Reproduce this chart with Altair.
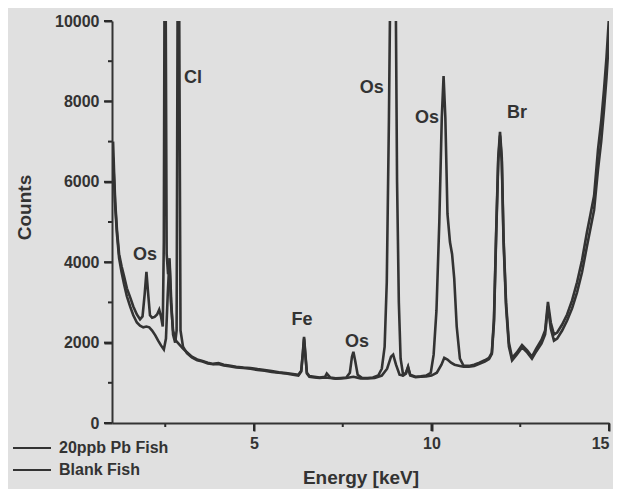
import altair as alt
import pandas as pd

series_names = ["20ppb Pb Fish", "Blank Fish"]

energy_pb = [1.03, 1.06, 1.09, 1.14, 1.20, 1.27, 1.34, 1.42, 1.51, 1.60,
             1.70, 1.79, 1.86, 1.92, 1.97, 2.02, 2.07, 2.13, 2.20, 2.27,
             2.33, 2.38, 2.43, 2.46, 2.48, 2.51, 2.54, 2.58, 2.62, 2.66,
             2.72, 2.80, 2.90, 3.00, 3.11, 3.25, 3.40, 3.55, 3.70, 3.85,
             4.00, 4.15, 4.30, 4.50, 4.70, 4.90, 5.10, 5.30, 5.50, 5.70,
             5.90, 6.10, 6.25, 6.33, 6.38, 6.41, 6.44, 6.49, 6.56, 6.70,
             6.85, 7.00, 7.05, 7.15, 7.30, 7.45, 7.60, 7.70, 7.76, 7.80,
             7.85, 7.92, 8.05, 8.20, 8.35, 8.50, 8.60, 8.68, 8.74, 8.80,
             8.84, 8.99, 9.03, 9.08, 9.13, 9.20, 9.28, 9.34, 9.40, 9.55,
             9.70, 9.85, 9.98, 10.06, 10.14, 10.22, 10.29, 10.34, 10.39, 10.45,
             10.52, 10.58, 10.64, 10.71, 10.80, 10.90, 11.05, 11.20, 11.35, 11.50,
             11.62, 11.70, 11.76, 11.82, 11.88, 11.93, 11.98, 12.03, 12.10, 12.18,
             12.27, 12.40, 12.55, 12.70, 12.83, 12.95, 13.10, 13.20, 13.28, 13.36,
             13.45, 13.54, 13.68, 13.82, 13.96, 14.10, 14.24, 14.38, 14.48, 14.58,
             14.69, 14.78, 14.86, 14.93, 15.00]
counts_pb = [7000, 6200, 5500, 4800, 4200, 3900, 3650, 3350, 3130, 2900,
             2700, 2580, 2650, 3200, 3760, 3200, 2680, 2620, 2640, 2700,
             2820, 2650, 2400, 4500, 11000, 11000, 4200, 3700, 4000, 3000,
             2300, 2050, 1950, 1850, 1760, 1650, 1580, 1540, 1500, 1470,
             1490, 1450, 1430, 1400, 1380, 1370, 1340, 1320, 1290, 1260,
             1240, 1220, 1200, 1300, 1800, 2140, 1800, 1250, 1170, 1150,
             1130, 1150, 1230, 1130, 1110, 1120, 1130, 1250, 1650, 1770,
             1550, 1200, 1120, 1120, 1130, 1180, 1350, 1900, 3500, 7500,
             11000, 11000, 6000, 3000, 1600, 1200, 1250, 1400, 1200, 1150,
             1160, 1180, 1250, 1700, 2800, 5000, 7600, 8630, 7600, 5200,
             4500, 4200, 3600, 2400, 1600, 1430, 1420, 1450, 1500, 1560,
             1620, 1750, 2600, 4700, 6600, 7240, 6600, 4600, 3000, 2000,
             1620, 1750, 1940, 1800, 1650, 1850, 2070, 2300, 3010, 2500,
             2200, 2250, 2450, 2700, 3050, 3500, 4050, 4750, 5200, 5650,
             6800, 7500, 8300, 9100, 10100]

energy_blank = [1.03, 1.06, 1.09, 1.14, 1.20, 1.27, 1.34, 1.42, 1.51, 1.60,
                1.70, 1.79, 1.88, 1.97, 2.05, 2.13, 2.22, 2.30, 2.38, 2.46,
                2.52, 2.57, 2.62, 2.67, 2.72, 2.78, 2.82, 2.85, 2.89, 2.93,
                3.00, 3.11, 3.25, 3.40, 3.55, 3.70, 3.85, 4.00, 4.15, 4.30,
                4.50, 4.70, 4.90, 5.10, 5.30, 5.50, 5.70, 5.90, 6.10, 6.25,
                6.33, 6.38, 6.41, 6.44, 6.49, 6.56, 6.70, 6.85, 7.00, 7.15,
                7.30, 7.45, 7.60, 7.80, 8.00, 8.20, 8.40, 8.60, 8.75, 8.86,
                8.92, 9.00, 9.10, 9.20, 9.28, 9.34, 9.40, 9.55, 9.70, 9.85,
                10.00, 10.15, 10.28, 10.36, 10.45, 10.55, 10.65, 10.80, 10.90, 11.05,
                11.20, 11.35, 11.50, 11.62, 11.70, 11.76, 11.82, 11.88, 11.93, 11.98,
                12.03, 12.10, 12.18, 12.27, 12.40, 12.55, 12.70, 12.83, 12.95, 13.10,
                13.20, 13.28, 13.36, 13.45, 13.54, 13.68, 13.82, 13.96, 14.10, 14.24,
                14.38, 14.48, 14.58, 14.69, 14.78, 14.86, 14.93, 15.00]
counts_blank = [6600, 6000, 5400, 4700, 4100, 3750, 3450, 3150, 2900, 2680,
                2500, 2420, 2380, 2400, 2380, 2300, 2180, 2050, 1930, 1830,
                2100, 3200, 4100, 3000, 2200, 2000, 2300, 11000, 11000, 2300,
                1900, 1740, 1630, 1560, 1530, 1480, 1460, 1470, 1430, 1410,
                1380, 1370, 1350, 1320, 1300, 1270, 1250, 1230, 1200, 1180,
                1280, 1750, 2100, 1750, 1230, 1150, 1130, 1120, 1130, 1120,
                1100, 1110, 1120, 1150, 1110, 1110, 1120, 1180, 1350, 1650,
                1700, 1450, 1200, 1180, 1230, 1380, 1180, 1140, 1150, 1160,
                1180, 1250, 1450, 1620, 1580, 1500, 1450, 1420, 1400, 1400,
                1420, 1470, 1530, 1590, 1720, 2500, 4600, 6500, 7150, 6500,
                4500, 2900, 1900, 1560, 1700, 1880, 1750, 1600, 1780, 1980,
                2200, 2900, 2350, 2050, 2100, 2300, 2550, 2850, 3250, 3750,
                4400, 4850, 5300, 6300, 7000, 7800, 8600, 9600]

peak_text = ["Os", "Cl", "Fe", "Os", "Os", "Os", "Br"]
peak_energy = [1.93, 3.28, 6.35, 7.90, 8.32, 9.87, 12.41]
peak_counts = [4180, 8580, 2560, 2015, 8330, 7590, 7710]

x_major = [5, 10, 15]
x_minor = [2.5, 7.5, 12.5]
y_major = [0, 2000, 4000, 6000, 8000, 10000]
y_minor = [1000, 3000, 5000, 7000, 9000]

FONT = "Liberation Sans"
INK = "#333333"
PLOT_H = 402

df = pd.concat([
    pd.DataFrame({"energy": energy_pb, "counts": counts_pb, "series": series_names[0]}),
    pd.DataFrame({"energy": energy_blank, "counts": counts_blank, "series": series_names[1]}),
], ignore_index=True)
labels_df = pd.DataFrame({"text": peak_text, "energy": peak_energy, "counts": peak_counts})
xt_major = pd.DataFrame({"energy": x_major})
xt_minor = pd.DataFrame({"energy": x_minor})
yt_major = pd.DataFrame({"counts": y_major})
yt_minor = pd.DataFrame({"counts": y_minor})

x_scale = alt.Scale(domain=[1, 15], nice=False, zero=False)
y_scale = alt.Scale(domain=[0, 10000], nice=False)

x_axis = alt.Axis(title="Energy [keV]", orient="bottom", values=x_major,
                  ticks=True, tickSize=8, tickWidth=2, tickColor="#2a2a2a",
                  labelPadding=4, titlePadding=17, zindex=1)
y_axis = alt.Axis(title="Counts", orient="left", values=y_major, format="d",
                  ticks=True, tickSize=8, tickWidth=2, tickColor="#2a2a2a",
                  labelPadding=5, titleX=-88, titleY=186, titleBaseline="middle",
                  zindex=1)

X = alt.X("energy:Q", scale=x_scale, axis=x_axis)
Y = alt.Y("counts:Q", scale=y_scale, axis=y_axis)

lines = alt.Chart(df).mark_line(clip=True, strokeWidth=2.6).encode(
    x=X,
    y=Y,
    color=alt.Color(
        "series:N",
        scale=alt.Scale(domain=series_names, range=[INK, INK]),
        legend=alt.Legend(
            title=None,
            orient="none",
            legendX=-100,
            legendY=419,
            symbolType="stroke",
            symbolSize=1444,
            symbolStrokeWidth=2,
            clipHeight=16,
            rowPadding=6,
            labelOffset=7,
            labelFont=FONT,
            labelFontWeight="bold",
            labelFontSize=16,
            labelColor=INK,
            padding=0,
        ),
    ),
)

text = alt.Chart(labels_df).mark_text(
    font=FONT, fontWeight="bold", fontSize=18, color=INK
).encode(x=X, y=Y, text="text:N")

tick_style = dict(color="#2a2a2a", strokeWidth=2)
x_ticks_major = alt.Chart(xt_major).mark_rule(**tick_style).encode(
    x=X, y=alt.value(PLOT_H), y2=alt.value(PLOT_H + 8))
x_ticks_minor = alt.Chart(xt_minor).mark_rule(**tick_style).encode(
    x=X, y=alt.value(PLOT_H), y2=alt.value(PLOT_H + 4))
y_ticks_major = alt.Chart(yt_major).mark_rule(**tick_style).encode(
    y=Y, x=alt.value(0), x2=alt.value(-8))
y_ticks_minor = alt.Chart(yt_minor).mark_rule(**tick_style).encode(
    y=Y, x=alt.value(0), x2=alt.value(-4))

chart = alt.layer(
    lines, text, x_ticks_major, x_ticks_minor, y_ticks_major, y_ticks_minor
).properties(
    width=497,
    height=PLOT_H,
    padding={"left": 104, "top": 13, "right": 4, "bottom": 66},
    autosize=alt.AutoSizeParams(type="none"),
    background="#e0e0e0",
).configure_view(
    stroke=None
).configure_axis(
    grid=False,
    domainColor=INK,
    domainWidth=2,
    labelFont=FONT,
    labelFontWeight="bold",
    labelFontSize=16,
    labelColor=INK,
    titleFont=FONT,
    titleFontWeight="bold",
    titleFontSize=19,
    titleColor=INK,
)

chart.save("out.html", embed_options={"renderer": "svg", "actions": False})
